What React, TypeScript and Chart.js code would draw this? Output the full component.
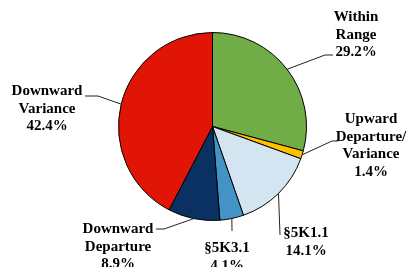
import React, { useEffect, useRef } from "react";
import { Chart, registerables } from "chart.js";

Chart.register(...registerables);

const CATEGORIES = ["Within Range", "Upward Departure/ Variance", "§5K1.1", "§5K3.1", "Downward Departure", "Downward Variance"];
const CATEGORY_LINES = [["Within", "Range"], ["Upward", "Departure/", "Variance"], ["§5K1.1"], ["§5K3.1"], ["Downward", "Departure"], ["Downward", "Variance"]];
const VALUES = [29.2, 1.4, 14.1, 4.1, 8.9, 42.4];
const COLORS = ["#70AD47", "#FFC000", "#D3E5F1", "#4393C6", "#0A3162", "#E01505"];

// Label layout relative to the pie centre (leader path points, text centre x, first baseline y)
const LABEL_LAYOUT = [
  { path: [[112.5, -71.5], [120.5, -71.5]], tx: 143.5, ty: -105.5 },
  { path: [[119.5, 14.5], [125, 14.5]], tx: 158.5, ty: -3.5 },
  { path: [[67.5, 108.5]], tx: 93.5, ty: 110.5 },
  { path: [[19.5, 104.5]], tx: 14.5, ty: 125.5 },
  { path: [[-48.5, 102.5], [-56.5, 102.5]], tx: -94.5, ty: 106.5 },
  { path: [[-114.5, -30.5], [-127.5, -30.5]], tx: -165.5, ty: -31.5 },
];
const LINE_HEIGHT = 17.5;

const labelPlugin = {
  id: "pieLabels",
  afterDatasetsDraw(chart: any) {
    const ctx = chart.ctx;
    const meta = chart.getDatasetMeta(0);
    ctx.save();
    meta.data.forEach((arc: any, i: number) => {
      const { x, y, startAngle, endAngle, outerRadius } = arc.getProps(["x", "y", "startAngle", "endAngle", "outerRadius"], true);
      const mid = (startAngle + endAngle) / 2;
      const sx = x + Math.cos(mid) * outerRadius;
      const sy = y + Math.sin(mid) * outerRadius;
      const L = LABEL_LAYOUT[i];
      ctx.beginPath();
      ctx.strokeStyle = "#222";
      ctx.lineWidth = 1;
      ctx.moveTo(sx, sy);
      L.path.forEach((p) => ctx.lineTo(x + p[0], y + p[1]));
      ctx.stroke();
      const lines = [...CATEGORY_LINES[i], `${VALUES[i].toFixed(1)}%`];
      ctx.fillStyle = "#000";
      ctx.font = 'bold 15px "Liberation Serif", "Times New Roman", serif';
      ctx.textAlign = "center";
      ctx.textBaseline = "alphabetic";
      lines.forEach((t, j) => ctx.fillText(t, x + L.tx, y + L.ty + j * LINE_HEIGHT));
    });
    ctx.restore();
  },
};

export default function App() {
  const ref = useRef<HTMLCanvasElement | null>(null);
  useEffect(() => {
    if (!ref.current) return;
    const chart = new Chart(ref.current, {
      type: "pie",
      data: {
        labels: CATEGORIES,
        datasets: [
          {
            data: VALUES,
            backgroundColor: COLORS,
            borderColor: "#000",
            borderWidth: 1,
          },
        ],
      },
      options: {
        animation: false,
        responsive: false,
        layout: { padding: { top: 32, bottom: 46, left: 118, right: 105 } },
        plugins: { legend: { display: false }, tooltip: { enabled: false } },
      },
      plugins: [labelPlugin],
    });
    return () => chart.destroy();
  }, []);
  return (
    <div style={{ position: "absolute", left: 0, top: 0, width: 412, height: 267, background: "#fff" }}>
      <canvas ref={ref} width={412} height={267} style={{ display: "block" }} />
    </div>
  );
}
